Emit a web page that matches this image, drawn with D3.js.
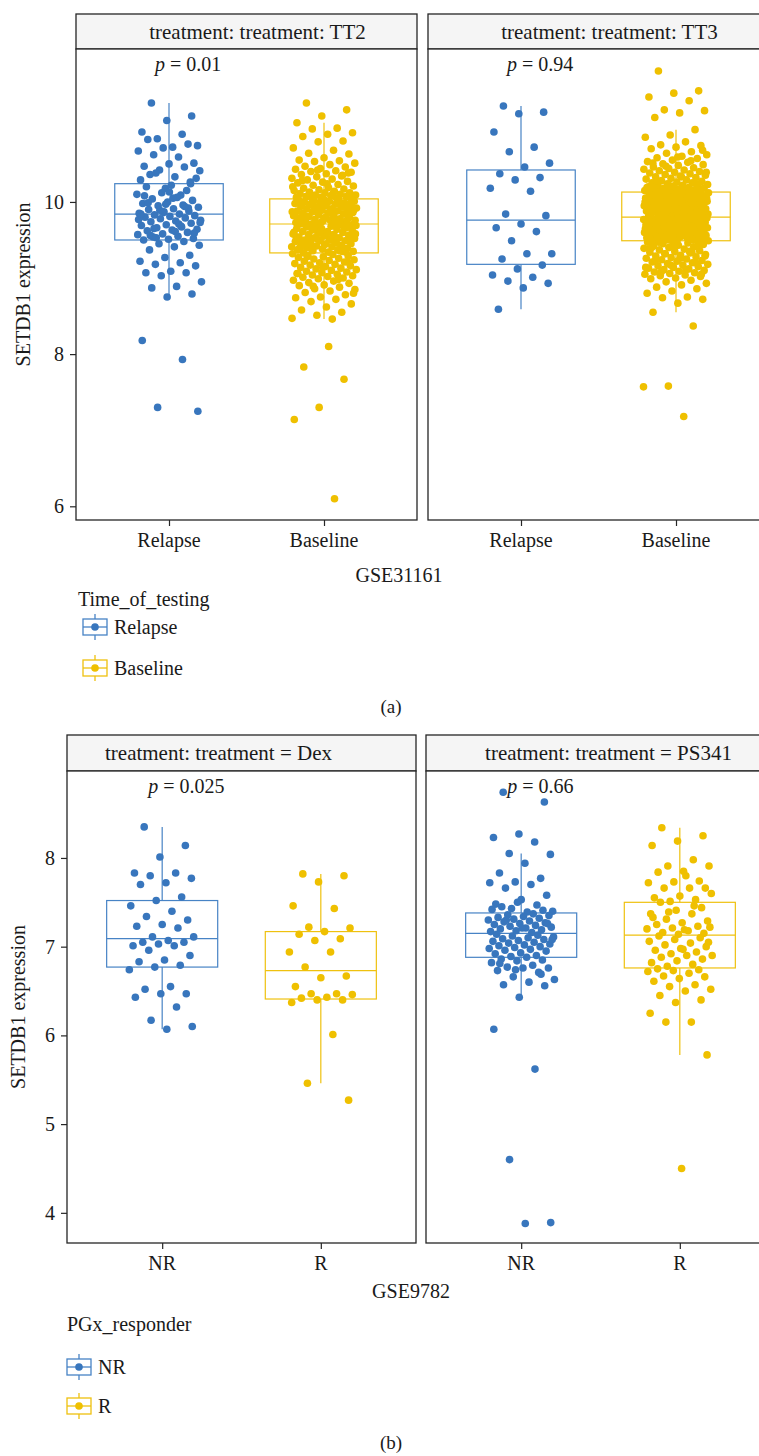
<!DOCTYPE html>
<html><head><meta charset="utf-8">
<script src="https://cdn.jsdelivr.net/npm/d3@7"></script>
<style>
body{margin:0;background:#fff}
svg{display:block;font-family:"Liberation Serif"}
svg text, svg tspan{font-family:"Liberation Serif"}
</style>
</head><body><svg id="c" width="759" height="1456"></svg>
<script>
// ---------------- DATA (a) GSE31161 ----------------
const groupsA = ["Relapse", "Baseline"];
const stripsA = ["treatment: treatment: TT2", "treatment: treatment: TT3"];
const pValuesA = ["0.01", "0.94"];
const yTicksA = [6, 8, 10];

const tt2Relapse = [11.30, 11.13, 11.07, 10.92, 10.89, 10.83, 10.74, 10.72, 10.82, 10.76, 10.71, 10.67, 10.59, 10.62, 10.51, 10.50, 10.47, 10.46, 10.42, 10.41, 10.33, 10.36, 10.26, 10.18, 10.29, 10.09, 10.38, 10.31, 10.22, 10.20, 10.15, 10.12, 10.10, 10.06, 10.04, 10.02, 10.00, 9.98, 9.96, 9.95, 9.93, 9.91, 9.90, 9.88, 9.87, 9.85, 9.84, 9.83, 9.82, 9.81, 9.80, 9.79, 9.78, 9.76, 9.75, 9.74, 9.72, 9.70, 9.69, 9.67, 9.66, 9.64, 9.63, 9.62, 9.60, 9.58, 9.57, 9.55, 9.54, 9.52, 9.51, 9.50, 9.48, 9.45, 9.43, 9.41, 9.37, 9.30, 9.27, 9.22, 9.20, 9.18, 9.16, 9.09, 9.07, 9.07, 9.03, 8.95, 8.89, 8.87, 8.79, 8.75, 8.18, 7.93, 7.30, 7.25, 10.05, 9.99, 9.92, 9.86, 9.77, 9.71, 9.65, 9.59, 10.13, 10.08, 9.94, 9.89, 9.73, 9.61, 9.56, 10.24, 9.97, 9.84, 9.68, 9.53];

const tt2Baseline = [11.30, 11.21, 11.13, 11.04, 10.97, 10.96, 10.91, 10.89, 10.86, 10.80, 10.79, 10.71, 10.68, 10.64, 10.63, 10.58, 10.55, 10.54, 10.53, 10.51, 10.49, 10.47, 10.46, 10.44, 10.43, 10.41, 10.40, 10.39, 10.37, 10.36, 10.34, 10.33, 10.31, 10.30, 10.29, 10.27, 10.26, 10.25, 10.23, 10.22, 10.21, 10.19, 10.18, 10.17, 10.16, 10.15, 10.14, 10.13, 10.12, 10.12, 10.11, 10.10, 10.09, 10.09, 10.08, 10.07, 10.07, 10.06, 10.06, 10.05, 10.05, 10.05, 10.24, 10.28, 10.35, 10.42, 10.20, 10.11, 10.08, 10.38,
  10.04, 10.03, 10.03, 10.02, 10.01, 10.01, 10.00, 9.99, 9.99, 9.98, 9.97, 9.97, 9.96, 9.95, 9.94, 9.94, 9.93, 9.92, 9.91, 9.91, 9.90, 9.89, 9.88, 9.88, 9.87, 9.86, 9.85, 9.85, 9.84, 9.83, 9.82, 9.82, 9.81, 9.80, 9.79, 9.79, 9.78, 9.77, 9.76, 9.76, 9.75, 9.74, 9.73, 9.73, 9.72, 9.71, 10.02, 9.98, 9.96, 9.93, 9.90, 9.87, 9.84, 9.81, 9.78, 9.75, 9.72, 10.00, 9.95, 9.89, 9.86, 9.80, 9.74, 9.92, 9.83, 9.77, 9.96, 9.87, 9.79, 9.71,
  9.70, 9.69, 9.69, 9.68, 9.67, 9.66, 9.65, 9.65, 9.64, 9.63, 9.62, 9.61, 9.61, 9.60, 9.59, 9.58, 9.57, 9.57, 9.56, 9.55, 9.54, 9.53, 9.53, 9.52, 9.51, 9.50, 9.49, 9.49, 9.48, 9.47, 9.46, 9.45, 9.45, 9.44, 9.43, 9.42, 9.41, 9.41, 9.40, 9.39, 9.38, 9.37, 9.37, 9.36, 9.35, 9.34, 9.33, 9.68, 9.64, 9.60, 9.56, 9.52, 9.48, 9.44, 9.40, 9.36, 9.66, 9.58, 9.50, 9.42, 9.34, 9.62, 9.54, 9.46, 9.38, 9.70, 9.59, 9.47, 9.35, 9.51,
  9.32, 9.31, 9.30, 9.29, 9.28, 9.27, 9.26, 9.25, 9.24, 9.23, 9.22, 9.21, 9.20, 9.19, 9.18, 9.17, 9.16, 9.15, 9.14, 9.13, 9.12, 9.11, 9.10, 9.09, 9.08, 9.07, 9.06, 9.05, 9.04, 9.03, 9.02, 9.01, 9.00, 8.99, 8.97, 8.96, 8.94, 8.93, 8.91, 8.90, 8.88, 8.86, 8.85, 8.83, 8.81, 8.78, 8.75, 8.74, 8.72, 8.69, 8.66, 8.62, 8.58, 8.55, 8.51, 8.47, 8.46, 9.28, 9.21, 9.14, 9.06, 8.98, 8.89, 8.80, 8.10, 7.83, 7.67, 7.30, 7.14, 6.10];

const tt3Relapse = [11.26, 11.18, 11.16, 10.92, 10.72, 10.66, 10.51, 10.46, 10.37, 10.32, 10.29, 10.18, 10.14, 9.84, 9.82, 9.71, 9.66, 9.61, 9.49, 9.32, 9.32, 9.25, 9.17, 9.12, 9.04, 9.01, 8.96, 8.93, 8.87, 8.59];

const tt3Baseline = [11.72, 11.46, 11.43, 11.38, 11.33, 11.21, 11.20, 11.17, 11.11, 10.95, 10.88, 10.85, 10.79, 10.75, 10.74, 10.72, 10.70, 10.66, 10.64, 10.62, 10.60, 10.58, 10.57, 10.55, 10.53, 10.52, 10.50, 10.49, 10.48, 10.46, 10.45, 10.44, 10.43, 10.42, 10.41, 10.40, 10.39, 10.38, 10.37, 10.36, 10.35, 10.34, 10.33, 10.32, 10.31, 10.30, 10.29, 10.28, 10.27, 10.26, 10.25, 10.25, 10.24, 10.23, 10.22, 10.22, 10.21, 10.20, 10.20, 10.19, 10.18, 10.18, 10.17, 10.17, 10.16, 10.16, 10.15, 10.15, 10.14, 10.14, 10.14, 10.13, 10.54, 10.47, 10.39, 10.33, 10.28, 10.24, 10.21, 10.19, 10.16, 10.15, 10.68, 10.59, 10.51,
  10.13, 10.12, 10.12, 10.11, 10.11, 10.10, 10.10, 10.09, 10.09, 10.08, 10.08, 10.07, 10.07, 10.06, 10.06, 10.05, 10.05, 10.04, 10.04, 10.03, 10.03, 10.02, 10.02, 10.01, 10.01, 10.00, 10.00, 9.99, 9.99, 9.98, 9.98, 9.97, 9.97, 9.96, 9.96, 9.95, 9.95, 9.94, 9.94, 9.93, 9.93, 9.92, 9.92, 9.91, 9.91, 9.90, 9.90, 9.89, 9.89, 9.88, 9.88, 9.87, 9.87, 9.86, 9.86, 9.85, 9.85, 9.84, 9.84, 9.83, 9.83, 9.82, 9.82, 9.81, 9.81, 9.80, 10.12, 10.09, 10.06, 10.03, 10.00, 9.97, 9.94, 9.91, 9.88, 9.85, 9.82, 10.11, 10.05, 9.99, 9.93, 9.87, 9.81, 10.02, 9.90,
  9.80, 9.79, 9.79, 9.78, 9.78, 9.77, 9.77, 9.76, 9.76, 9.75, 9.75, 9.74, 9.74, 9.73, 9.73, 9.72, 9.72, 9.71, 9.71, 9.70, 9.70, 9.69, 9.69, 9.68, 9.68, 9.67, 9.67, 9.66, 9.66, 9.65, 9.65, 9.64, 9.64, 9.63, 9.63, 9.62, 9.62, 9.61, 9.61, 9.60, 9.60, 9.59, 9.59, 9.58, 9.58, 9.57, 9.57, 9.56, 9.56, 9.55, 9.55, 9.54, 9.54, 9.53, 9.53, 9.52, 9.52, 9.51, 9.51, 9.50, 9.50, 9.49, 9.78, 9.75, 9.72, 9.69, 9.66, 9.63, 9.60, 9.57, 9.54, 9.51, 9.77, 9.71, 9.65, 9.59, 9.53, 9.74, 9.62, 9.50, 9.68, 9.56, 9.79, 9.61, 9.52,
  9.49, 9.48, 9.47, 9.46, 9.45, 9.44, 9.43, 9.42, 9.41, 9.40, 9.39, 9.38, 9.37, 9.36, 9.35, 9.34, 9.33, 9.32, 9.31, 9.30, 9.29, 9.28, 9.27, 9.26, 9.25, 9.24, 9.23, 9.22, 9.21, 9.20, 9.19, 9.18, 9.17, 9.16, 9.15, 9.14, 9.13, 9.12, 9.11, 9.10, 9.09, 9.08, 9.07, 9.06, 9.05, 9.04, 9.03, 9.02, 9.00, 8.99, 8.97, 8.95, 8.93, 8.91, 8.88, 8.86, 8.83, 8.80, 8.75, 8.74, 8.72, 8.67, 8.55, 8.37, 7.58, 7.57, 7.18, 9.47, 9.44, 9.41, 9.38, 9.35, 9.32, 9.29, 9.26, 9.23, 9.20, 9.17, 9.14, 9.11, 9.08, 9.05, 9.46, 9.40, 9.34];

// box stats: [lower whisker, Q1, median, Q3, upper whisker]
const boxTT2 = [[8.75, 9.50, 9.84, 10.24, 11.30], [8.46, 9.33, 9.71, 10.04, 11.04]];
const boxTT3 = [[8.59, 9.18, 9.76, 10.42, 11.26], [8.55, 9.49, 9.80, 10.13, 10.95]];

// ---------------- DATA (b) GSE9782 ----------------
const groupsB = ["NR", "R"];
const stripsB = ["treatment: treatment = Dex", "treatment: treatment = PS341"];
const pValuesB = ["0.025", "0.66"];
const yTicksB = [4, 5, 6, 7, 8];

const dexNR = [8.35, 8.14, 8.01, 7.83, 7.83, 7.80, 7.77, 7.72, 7.70, 7.56, 7.52, 7.46, 7.40, 7.34, 7.30, 7.25, 7.23, 7.21, 7.11, 7.11, 7.07, 7.05, 7.05, 7.03, 7.01, 7.01, 6.96, 6.90, 6.85, 6.83, 6.79, 6.77, 6.74, 6.55, 6.52, 6.47, 6.47, 6.43, 6.32, 6.17, 6.10, 6.07];
const dexR = [7.82, 7.80, 7.73, 7.46, 7.43, 7.22, 7.21, 7.17, 7.14, 7.09, 7.07, 6.94, 6.94, 6.77, 6.67, 6.65, 6.55, 6.47, 6.47, 6.46, 6.43, 6.42, 6.40, 6.40, 6.37, 6.01, 5.46, 5.27];
const ps341NR = [8.74, 8.63, 8.27, 8.23, 8.18, 8.05, 8.04, 7.94, 7.83, 7.77, 7.73, 7.72, 7.70, 7.66, 7.58, 7.53, 7.48, 7.47, 7.43, 7.40, 7.39, 7.45, 7.41, 7.50, 7.42,
  7.37, 7.36, 7.35, 7.34, 7.33, 7.32, 7.31, 7.30, 7.29, 7.28, 7.27, 7.26, 7.25, 7.24, 7.23, 7.22, 7.21, 7.20, 7.19, 7.18, 7.17, 7.16, 7.30, 7.26, 7.21,
  7.14, 7.13, 7.12, 7.11, 7.10, 7.09, 7.08, 7.07, 7.06, 7.05, 7.04, 7.03, 7.02, 7.01, 7.00, 6.99, 6.98, 6.97, 6.96, 6.95, 6.93, 6.92, 6.90, 6.89, 7.08,
  6.88, 6.86, 6.85, 6.84, 6.82, 6.79, 6.77, 6.76, 6.76, 6.73, 6.71, 6.66, 6.63, 6.60, 6.57, 6.56, 6.43, 6.07, 5.62, 4.60, 3.89, 3.88, 6.81, 6.69, 6.74];
const ps341R = [8.34, 8.25, 8.19, 8.14, 7.98, 7.91, 7.91, 7.85, 7.84, 7.74, 7.73, 7.72, 7.66, 7.66, 7.66, 7.57, 7.55, 7.53, 7.51, 7.60, 7.80,
  7.50, 7.44, 7.41, 7.37, 7.37, 7.31, 7.29, 7.27, 7.25, 7.23, 7.21, 7.20, 7.18, 7.16, 7.15, 7.14, 7.33, 7.46, 7.39, 7.22, 7.19,
  7.12, 7.10, 7.08, 7.06, 7.04, 7.02, 7.00, 6.98, 6.96, 6.94, 6.92, 6.90, 6.90, 6.88, 6.86, 6.84, 6.82, 6.80, 6.78, 7.05, 6.97,
  6.75, 6.74, 6.73, 6.72, 6.70, 6.67, 6.66, 6.64, 6.61, 6.57, 6.55, 6.52, 6.50, 6.45, 6.40, 6.37, 6.25, 6.15, 6.15, 5.78, 4.50];
const boxDex = [[6.07, 6.77, 7.09, 7.52, 8.35], [5.46, 6.41, 6.73, 7.17, 7.82]];
const boxPS341 = [[6.43, 6.88, 7.15, 7.38, 8.05], [5.78, 6.76, 7.13, 7.50, 8.34]];

// ---------------- STYLE / LAYOUT ----------------
const dotColors = ["#3876BD", "#EFC000"];
const boxColors = ["#4783C5", "#EFC10F"];
const FONT = 20;
const svg = d3.select("#c");

function jitter(i) { return (((i * 0.6180339887 + 0.23) % 1) - 0.5) * 0.42; }

function txt(sel, size) {
  return sel.style("font-family", '"Liberation Serif"').style("font-size", (size || FONT) + "px").style("fill", "#1a1a1a");
}

function drawFigure(cfg) {
  const y = d3.scaleLinear().domain(cfg.yDomain).range([cfg.plotBottom, cfg.plotTop]);
  const marks = svg.append("g");
  const labels = [];
  cfg.panels.forEach((pn, pi) => {
    const x = d3.scalePoint().domain(cfg.groups).range([pn.x0, pn.x0 + cfg.width]).padding(0.6);
    const step = x.step();
    marks.append("rect").attr("x", pn.x0).attr("y", cfg.stripTop).attr("width", cfg.width)
      .attr("height", cfg.plotTop - cfg.stripTop).attr("fill", "#F5F5F5").attr("stroke", "#262626").attr("stroke-width", 1.3);
    marks.append("rect").attr("x", pn.x0).attr("y", cfg.plotTop).attr("width", cfg.width)
      .attr("height", cfg.plotBottom - cfg.plotTop).attr("fill", "#fff").attr("stroke", "#262626").attr("stroke-width", 1.3);
    cfg.groups.forEach((grp, gi) => {
      const b = cfg.boxes[pi][gi];
      const cx = x(grp), bw = 0.7 * step;
      const bg = marks.append("g").attr("stroke", boxColors[gi]).attr("stroke-width", 1.2).attr("fill", "none");
      bg.append("line").attr("x1", cx).attr("x2", cx).attr("y1", y(b[0])).attr("y2", y(b[1]));
      bg.append("line").attr("x1", cx).attr("x2", cx).attr("y1", y(b[3])).attr("y2", y(b[4]));
      bg.append("rect").attr("x", cx - bw / 2).attr("width", bw).attr("y", y(b[3])).attr("height", y(b[1]) - y(b[3])).attr("fill", "#fff");
      bg.append("line").attr("x1", cx - bw / 2).attr("x2", cx + bw / 2).attr("y1", y(b[2])).attr("y2", y(b[2]));
    });
    cfg.groups.forEach((grp, gi) => {
      marks.append("g").selectAll("circle").data(cfg.data[pi][gi]).join("circle")
        .attr("cx", (d, i) => x(grp) + jitter(i) * step)
        .attr("cy", d => y(d)).attr("r", 3.8).attr("fill", dotColors[gi]);
    });
    const xa = marks.append("g").attr("transform", `translate(0,${cfg.plotBottom})`)
      .call(d3.axisBottom(x).tickSize(6).tickFormat(""));
    xa.select(".domain").remove();
    xa.selectAll("line").attr("stroke", "#262626").attr("stroke-width", 1.2);
    cfg.groups.forEach(grp => labels.push({x: x(grp), y: cfg.plotBottom + 27, t: grp, a: "middle"}));
    labels.push({x: pn.x0 + cfg.width / 2 + pn.stripShift, y: (cfg.stripTop + cfg.plotTop) / 2 + 7, t: cfg.strips[pi], a: "middle", s: 21});
    labels.push({x: x(cfg.groups[0]) - 14, y: cfg.plotTop + 22, p: cfg.pvals[pi], a: "start"});
    if (pi === 0) {
      const ya = marks.append("g").attr("transform", `translate(${pn.x0},0)`)
        .call(d3.axisLeft(y).tickValues(cfg.yTicks).tickSize(6).tickFormat(""));
      ya.select(".domain").remove();
      ya.selectAll("line").attr("stroke", "#262626").attr("stroke-width", 1.2);
      cfg.yTicks.forEach(v => labels.push({x: pn.x0 - 12, y: y(v) + 7, t: String(v), a: "end"}));
    }
  });
  cfg.groups.forEach((grp, gi) => {
    const cy = cfg.legKeysY[gi], kx = cfg.legX + cfg.keyDx;
    const kg = marks.append("g").attr("stroke", boxColors[gi]).attr("stroke-width", 1.3).attr("fill", "none");
    kg.append("line").attr("x1", kx + 12).attr("x2", kx + 12).attr("y1", cy - 13).attr("y2", cy + 13);
    kg.append("rect").attr("x", kx).attr("y", cy - 8).attr("width", 24).attr("height", 16).attr("fill", "#fff");
    kg.append("line").attr("x1", kx).attr("x2", kx + 24).attr("y1", cy).attr("y2", cy);
    marks.append("circle").attr("cx", kx + 12).attr("cy", cy).attr("r", 3.8).attr("fill", dotColors[gi]);
    labels.push({x: kx + 31, y: cy + 7, t: grp, a: "start"});
  });
  labels.push({x: cfg.xTitleX, y: cfg.xTitleY, t: cfg.xTitle, a: "middle"});
  labels.push({x: cfg.legX, y: cfg.legTitleY, t: cfg.legTitle, a: "start"});
  labels.push({x: cfg.tagX, y: cfg.tagY, t: cfg.tag, a: "middle", s: 19});
  labels.forEach(l => {
    const t = txt(svg.append("text").attr("x", l.x).attr("y", l.y).attr("text-anchor", l.a), l.s);
    if (l.p) {
      t.append("tspan").style("font-style", "italic").text("p");
      t.append("tspan").text(" = " + l.p);
    } else t.text(l.t);
  });
  txt(svg.append("text").attr("transform", `translate(${cfg.yTitleX + 7},${(cfg.plotTop + cfg.plotBottom) / 2}) rotate(-90)`)
    .attr("text-anchor", "middle")).text("SETDB1 expression");
}

drawFigure({
  groups: groupsA, strips: stripsA, pvals: pValuesA, yTicks: yTicksA,
  data: [[tt2Relapse, tt2Baseline], [tt3Relapse, tt3Baseline]],
  boxes: [boxTT2, boxTT3],
  yDomain: [5.82, 12.01], stripTop: 14, plotTop: 49, plotBottom: 520, width: 341,
  panels: [{x0: 76, stripShift: 11}, {x0: 428, stripShift: 11}],
  yTitleX: 23, xTitle: "GSE31161", xTitleX: 399, xTitleY: 582,
  legTitle: "Time_of_testing", legX: 78, keyDx: 5, legTitleY: 606, legKeysY: [627, 668],
  tag: "(a)", tagX: 391, tagY: 713
});
drawFigure({
  groups: groupsB, strips: stripsB, pvals: pValuesB, yTicks: yTicksB,
  data: [[dexNR, dexR], [ps341NR, ps341R]],
  boxes: [boxDex, boxPS341],
  yDomain: [3.66, 8.98], stripTop: 735, plotTop: 771, plotBottom: 1243, width: 349,
  panels: [{x0: 67, stripShift: -23}, {x0: 426, stripShift: 8}],
  yTitleX: 18, xTitle: "GSE9782", xTitleX: 411, xTitleY: 1298,
  legTitle: "PGx_responder", legX: 67, keyDx: 0, legTitleY: 1331, legKeysY: [1367, 1406],
  tag: "(b)", tagX: 391, tagY: 1449
});
</script></body></html>
